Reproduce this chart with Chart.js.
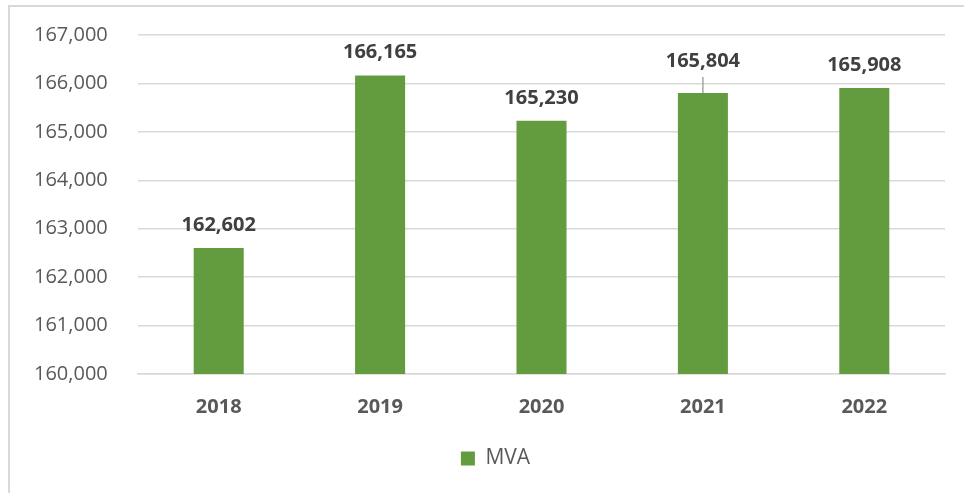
<!DOCTYPE html>
<html>
<head>
<meta charset="utf-8">
<script src="https://cdn.jsdelivr.net/npm/chart.js@4"></script>
<style>
  html, body { margin: 0; padding: 0; background: #fff; }
  #wrap { position: relative; width: 964px; height: 493px; }
</style>
</head>
<body>
<div id="wrap"><canvas id="chart" width="964" height="493"></canvas></div>
<script>
const years = ['2018', '2019', '2020', '2021', '2022'];
const mva = [162602, 166165, 165230, 165804, 165908];
const seriesName = 'MVA';
const yMin = 160000;
const yMax = 167000;
const yStep = 1000;

const barColor = '#639C3F';
const fontFamily = '"Open Sans", "Noto Sans", sans-serif';
const fmt = (v) => v.toLocaleString('en-US');

// frame around chart (only left and top visible in the picture)
const framePlugin = {
  id: 'frame',
  beforeDraw(chart) {
    const ctx = chart.ctx;
    ctx.save();
    ctx.strokeStyle = '#D9D9D9';
    ctx.lineWidth = 2;
    ctx.strokeRect(9, 6, 1000, 600);
    ctx.restore();
  },
  // legend sits a bit right of the legend box centre in the original
  afterLayout(chart) {
    chart.legend.left += 6;
    chart.legend.right += 6;
  }
};

// value labels above bars, 2021 moved up with a leader line
const labelPlugin = {
  id: 'barLabels',
  afterDatasetsDraw(chart) {
    const ctx = chart.ctx;
    const meta = chart.getDatasetMeta(0);
    ctx.save();
    ctx.font = 'bold 20px ' + fontFamily;
    ctx.fillStyle = '#404040';
    ctx.textAlign = 'center';
    ctx.textBaseline = 'alphabetic';
    meta.data.forEach((bar, i) => {
      let base = bar.y - 17;
      if (i === 3) {
        base = bar.y - 26;
        ctx.strokeStyle = '#A6A6A6';
        ctx.lineWidth = 1.5;
        ctx.beginPath();
        ctx.moveTo(bar.x, base + 10);
        ctx.lineTo(bar.x, bar.y);
        ctx.stroke();
      }
      ctx.fillText(fmt(mva[i]), bar.x, base);
    });
    ctx.restore();
  }
};

new Chart(document.getElementById('chart'), {
  type: 'bar',
  data: {
    labels: years,
    datasets: [{
      label: seriesName,
      data: mva,
      backgroundColor: barColor,
      barPercentage: 0.31,
      categoryPercentage: 1
    }]
  },
  options: {
    responsive: false,
    animation: false,
    layout: { padding: { left: 34, right: 19, top: 35, bottom: 14 } },
    plugins: {
      legend: {
        position: 'bottom',
        labels: {
          boxWidth: 14,
          boxHeight: 14,
          padding: 10,
          color: '#595959',
          font: { family: fontFamily, size: 21 }
        }
      },
      tooltip: { enabled: false }
    },
    scales: {
      y: {
        min: yMin,
        max: yMax,
        afterFit: (s) => { s.width = 104; },
        border: { display: false },
        grid: { color: '#D9D9D9', lineWidth: 1.5, drawTicks: false },
        ticks: {
          stepSize: yStep,
          padding: 0,
          crossAlign: 'far',
          color: '#595959',
          font: { family: fontFamily, size: 20 },
          callback: (v) => fmt(v)
        }
      },
      x: {
        afterFit: (s) => { s.height = 64; },
        border: { display: true, color: '#D9D9D9', width: 1.5 },
        grid: { display: false },
        ticks: {
          padding: 13,
          color: '#595959',
          font: { family: fontFamily, size: 20, weight: 'bold' }
        }
      }
    }
  },
  plugins: [framePlugin, labelPlugin]
});
</script>
</body>
</html>
